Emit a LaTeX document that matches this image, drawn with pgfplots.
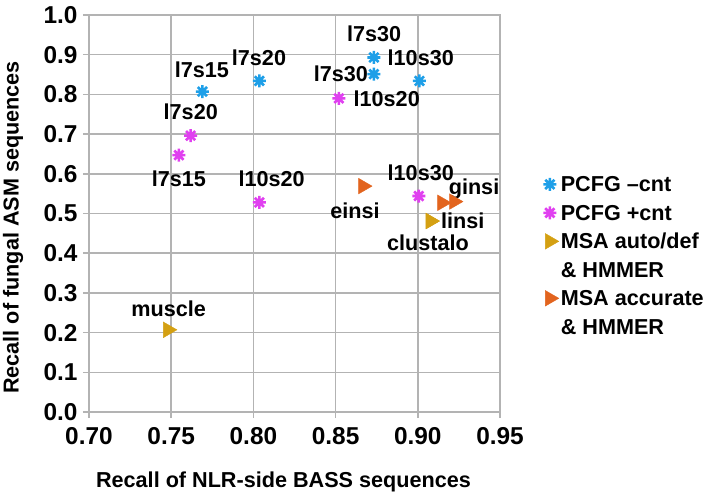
\documentclass[border=0pt]{standalone}
\usepackage{fontspec}
\setmainfont{Liberation Sans}
\usepackage{pgfplots}
\pgfplotsset{compat=1.18}
\definecolor{cblue}{HTML}{1E9FE8}
\definecolor{cpink}{HTML}{E040F0}
\definecolor{cgold}{HTML}{D4A012}
\definecolor{corange}{HTML}{E2641E}
\definecolor{cgrid}{HTML}{B3B3B3}
% eight-armed asterisk
\pgfdeclareplotmark{ast8}{%
  \pgfpathmoveto{\pgfqpoint{-\pgfplotmarksize}{0pt}}\pgfpathlineto{\pgfqpoint{\pgfplotmarksize}{0pt}}%
  \pgfpathmoveto{\pgfqpoint{0pt}{-\pgfplotmarksize}}\pgfpathlineto{\pgfqpoint{0pt}{\pgfplotmarksize}}%
  \pgfpathmoveto{\pgfqpoint{-.707\pgfplotmarksize}{-.707\pgfplotmarksize}}\pgfpathlineto{\pgfqpoint{.707\pgfplotmarksize}{.707\pgfplotmarksize}}%
  \pgfpathmoveto{\pgfqpoint{-.707\pgfplotmarksize}{.707\pgfplotmarksize}}\pgfpathlineto{\pgfqpoint{.707\pgfplotmarksize}{-.707\pgfplotmarksize}}%
  \pgfusepathqstroke}
\newcommand{\lbl}{\fontsize{21.7}{28}\selectfont\bfseries}
\begin{document}
\begin{tikzpicture}
\begin{axis}[
  name=ax,
  scale only axis,
  width=411bp, height=397bp,
  xmin=0.70, xmax=0.95, ymin=0, ymax=1,
  xtick={0.70,0.75,0.80,0.85,0.90,0.95},
  ytick={0,0.1,0.2,0.3,0.4,0.5,0.6,0.7,0.8,0.9,1.0},
  xticklabel style={yshift=-6bp, /pgf/number format/.cd, fixed, fixed zerofill, precision=2},
  yticklabel style={xshift=-2bp, /pgf/number format/.cd, fixed, fixed zerofill, precision=1},
  /pgf/number format/assume math mode=true,
  ticklabel style={font=\fontsize{24.5}{28}\selectfont\bfseries},
  grid=major,
  grid style={cgrid, line width=1.5bp},
  axis line style={cgrid, line width=1.5bp},
  tick style={cgrid, line width=1.5bp},
  tick align=outside,
  major tick length=6bp,
  xtick pos=bottom, ytick pos=left,
  font=\lbl,
  xlabel={Recall of NLR-side BASS sequences},
  ylabel={Recall of fungal ASM sequences},
  xlabel style={at={(axis description cs:0.5,0)}, anchor=center, xshift=-11bp, yshift=-70bp},
  ylabel style={at={(axis description cs:0,0.5)}, anchor=center, rotate=0, yshift=76bp, xshift=-14bp},
  legend style={draw=none, fill=none, at={(1.10,0.394)}, anchor=west,
    font=\lbl, row sep=7bp, inner sep=0pt,
    cells={anchor=west, text height=16bp, text depth=5bp, inner sep=0pt},
    /tikz/every even column/.style={column sep=5bp}},
]
\addplot[only marks, mark=ast8, mark size=6.5bp, line width=2.6bp, color=cblue] coordinates {
  (0.769,0.807) (0.8036,0.834) (0.8733,0.893) (0.8733,0.851) (0.901,0.834)
};
\addlegendentry{PCFG \textendash cnt}
\addplot[only marks, mark=ast8, mark size=6.5bp, line width=2.6bp, color=cpink] coordinates {
  (0.7618,0.696) (0.7547,0.647) (0.8036,0.528) (0.852,0.790) (0.9006,0.544)
};
\addlegendentry{PCFG +cnt}
\addplot[only marks, mark=triangle*, mark size=9bp, mark options={rotate=-90}, color=cgold] coordinates {
  (0.9077,0.481) (0.9077,0.481) (0.748,0.207)
};
\addlegendentry{MSA auto/def}
\addlegendimage{empty legend}
\addlegendentry{\& HMMER}
\addplot[only marks, mark=triangle*, mark size=9bp, mark options={rotate=-90}, color=corange] coordinates {
  (0.8667,0.569) (0.9148,0.527) (0.922,0.530)
};
\addlegendentry{MSA accurate}
\addlegendimage{empty legend}
\addlegendentry{\& HMMER}
% point labels
\node at (axis cs:0.7687,0.861) {l7s15};
\node at (axis cs:0.8034,0.893) {l7s20};
\node at (axis cs:0.8734,0.953) {l7s30};
\node at (axis cs:0.9018,0.893) {l10s30};
\node at (axis cs:0.8532,0.851) {l7s30};
\node at (axis cs:0.8811,0.788) {l10s20};
\node at (axis cs:0.7619,0.756) {l7s20};
\node at (axis cs:0.7547,0.587) {l7s15};
\node at (axis cs:0.8111,0.587) {l10s20};
\node at (axis cs:0.9018,0.603) {l10s30};
\node at (axis cs:0.8618,0.506) {einsi};
\node at (axis cs:0.9342,0.562) {ginsi};
\node at (axis cs:0.9273,0.482) {linsi};
\node at (axis cs:0.9062,0.426) {clustalo};
\node at (axis cs:0.7485,0.260) {muscle};
\end{axis}
\pgfresetboundingbox
\path ([xshift=-89bp,yshift=-80bp]ax.south west) rectangle ++(712bp,492bp);
\end{tikzpicture}
\end{document}
